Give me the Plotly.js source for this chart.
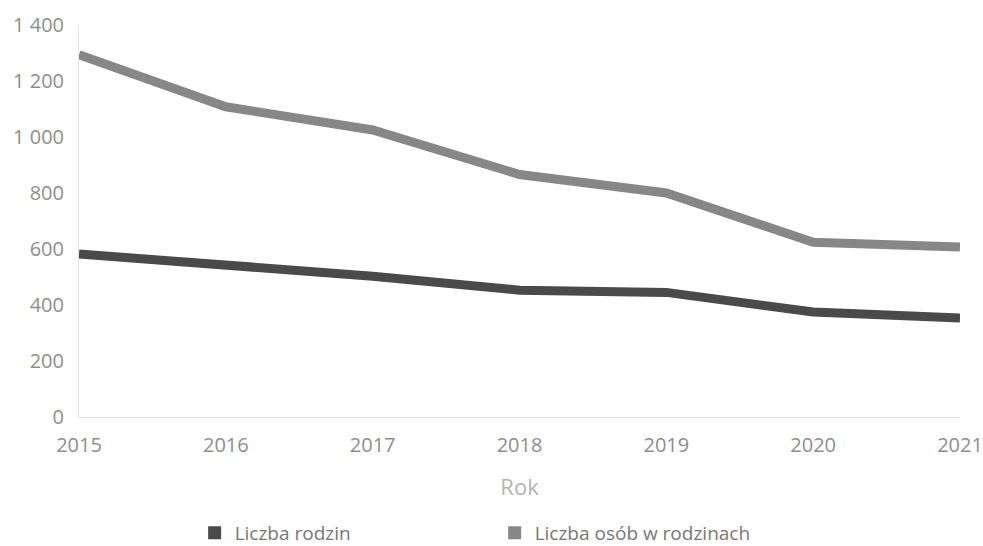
<!DOCTYPE html>
<html>
<head>
<meta charset="utf-8">
<script src="https://cdn.plot.ly/plotly-3.0.1.min.js"></script>
<style>html,body{margin:0;padding:0;background:#fff;}#chart{width:983px;height:546px;}</style>
</head>
<body>
<div id="chart"></div>
<script>
const years = [2015, 2016, 2017, 2018, 2019, 2020, 2021];
const liczbaRodzin = [582, 542, 503, 453, 445, 375, 354];
const liczbaOsob = [1294, 1108, 1025, 866, 800, 624, 607];
const seriesNames = ['Liczba rodzin', 'Liczba osób w rodzinach'];
const seriesColors = ['#4a4a4a', '#878787'];
const yTicks = [0, 200, 400, 600, 800, 1000, 1200, 1400];

const traces = [
  {x: years, y: liczbaRodzin, mode: 'lines', name: seriesNames[0], showlegend: false,
   line: {color: seriesColors[0], width: 9}},
  {x: years, y: liczbaOsob, mode: 'lines', name: seriesNames[1], showlegend: false,
   line: {color: seriesColors[1], width: 9}},
  {x: [null], y: [null], mode: 'markers', name: seriesNames[0],
   marker: {symbol: 'square', size: 13, color: seriesColors[0]}},
  {x: [null], y: [null], mode: 'markers', name: seriesNames[1],
   marker: {symbol: 'square', size: 13, color: seriesColors[1]}}
];

const layout = {
  width: 983, height: 546,
  margin: {l: 79, r: 23, t: 25, b: 129},
  paper_bgcolor: '#fff', plot_bgcolor: '#fff',
  font: {family: 'Open Sans, sans-serif', color: '#8e8e8e', size: 20},
  separators: ', ',
  xaxis: {
    range: [2015, 2021], tickvals: years, ticktext: years.map(String),
    showgrid: false, zeroline: false, showline: true, linecolor: '#e4e4e4', linewidth: 1,
    ticks: '', ticklabelstandoff: 10, tickfont: {size: 20, color: '#8e8e8e'},
    title: {text: 'Rok', font: {size: 22, color: '#b3b3b3'}, standoff: 22}
  },
  yaxis: {
    range: [0, 1400], tickvals: yTicks, separatethousands: true, tickformat: ',d',
    showgrid: false, zeroline: false, showline: true, linecolor: '#e4e4e4', linewidth: 1,
    ticks: '', ticklabelstandoff: 10, tickfont: {size: 20, color: '#8e8e8e'}
  },
  legend: {
    orientation: 'h', xref: 'container', x: 0.198, xanchor: 'left',
    yref: 'container', y: 0.024, yanchor: 'middle',
    font: {size: 19, color: '#777777'}, entrywidth: 255, itemwidth: 30
  },
  showlegend: true
};

Plotly.newPlot('chart', traces, layout, {staticPlot: true});
</script>
</body>
</html>
